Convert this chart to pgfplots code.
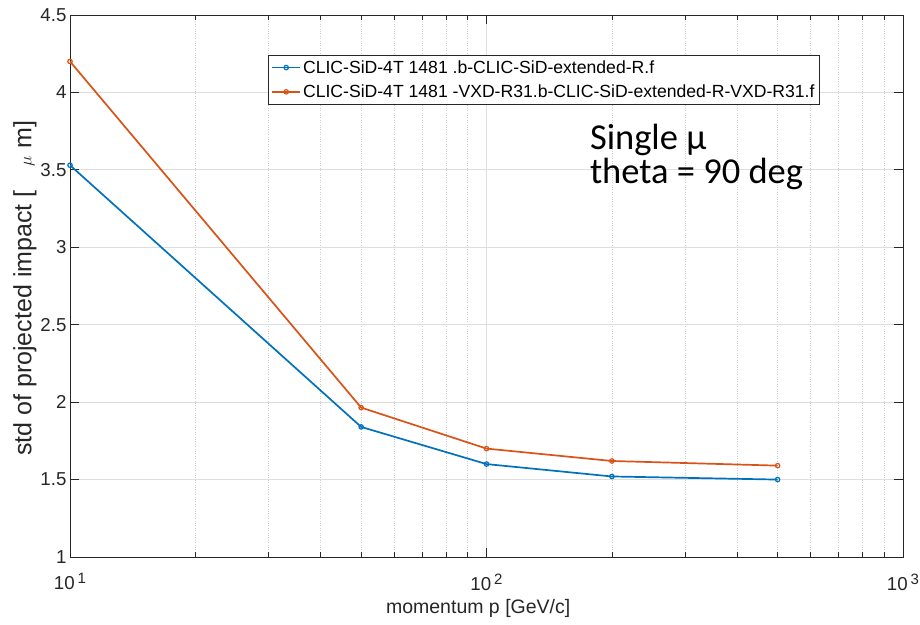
\documentclass[border=0pt]{standalone}
\usepackage{pgfplots}
\pgfplotsset{compat=1.18}
\usepackage{fontspec}
\setmainfont{Liberation Sans}
\newfontfamily\calib{Carlito}

\definecolor{mblue}{RGB}{0,114,189}
\definecolor{morange}{RGB}{217,83,25}
\definecolor{axgray}{RGB}{38,38,38}

\newcommand{\tenpow}[1]{10\kern3pt\raisebox{6pt}{\fontsize{15}{15}\selectfont #1}}

\begin{document}
\begin{tikzpicture}
  \begin{axis}[
      name=ax,
      xmode=log,
      scale only axis,
      width=833pt, height=542pt,
      xmin=10, xmax=1000,
      ymin=1, ymax=4.5,
      xtick={10,100,1000},
      xticklabels={\tenpow{1},\tenpow{2},\tenpow{3}},
      ytick={1,1.5,2,2.5,3,3.5,4,4.5},
      yticklabel style={/pgf/number format/fixed, /pgf/number format/assume math mode=true},
      tick label style={font=\fontsize{18.7}{22}\selectfont, color=axgray},
      xticklabel style={yshift=-13pt},
      xlabel={momentum p [GeV/c]},
      ylabel={std of projected impact [\hspace{24pt}{\fontsize{17}{17}\selectfont$\mu$}\hspace{8pt}m]},
      label style={color=axgray},
      xlabel style={font=\fontsize{19.5}{23}\selectfont, at={(axis description cs:0.49,-0.1035)}, anchor=base},
      ylabel style={font=\fontsize{25}{28}\selectfont, at={(axis description cs:-0.054,0.496)}, anchor=center},
      axis line style={color=axgray, line width=0.7pt},
      tick align=inside,
      major tick length=9pt,
      minor tick length=5pt,
      tick style={color=axgray, line width=0.7pt},
      xmajorgrids=true, ymajorgrids=true, xminorgrids=true,
      major grid style={color=black!13, line width=0.7pt},
      minor grid style={color=black!20, dotted, line width=0.7pt},
      legend style={at={(rel axis cs:0.2377,0.926)}, anchor=north west,
        font=\fontsize{17.6}{20}\selectfont, draw=axgray, line width=0.7pt,
        inner sep=3pt, row sep=6pt, cells={anchor=west}},
      legend cell align=left,
      legend image code/.code={
        \draw[mark repeat=2,mark phase=2] plot coordinates {(0pt,0pt) (14pt,0pt) (28pt,0pt)};},
  ]
  \addplot[color=mblue, line width=1.7pt, mark=o, mark size=2.2pt,
      mark options={line width=1.2pt}]
    coordinates {
      (10,3.53)
      (50,1.84)
      (100,1.60)
      (200,1.52)
      (500,1.50)
    };
  \addlegendentry{CLIC-SiD-4T 1481 .b-CLIC-SiD-extended-R.f}

  \addplot[color=morange, line width=1.7pt, mark=o, mark size=2.2pt,
      mark options={line width=1.2pt}]
    coordinates {
      (10,4.20)
      (50,1.965)
      (100,1.70)
      (200,1.62)
      (500,1.59)
    };
  \addlegendentry{CLIC-SiD-4T 1481 -VXD-R31.b-CLIC-SiD-extended-R-VXD-R31.f}

  \node[anchor=base west, inner sep=0pt, font=\calib\fontsize{36.5}{36}\selectfont]
    at (rel axis cs:0.624,0.751) {Single μ};
  \node[anchor=base west, inner sep=0pt, font=\calib\fontsize{36.5}{36}\selectfont]
    at (rel axis cs:0.624,0.690) {theta = 90 deg};
  \end{axis}
  \pgfresetboundingbox
  \path[use as bounding box] ([shift={(-70pt,-68pt)}]ax.south west)
    rectangle ([shift={(17pt,15pt)}]ax.north east);
\end{tikzpicture}
\end{document}
